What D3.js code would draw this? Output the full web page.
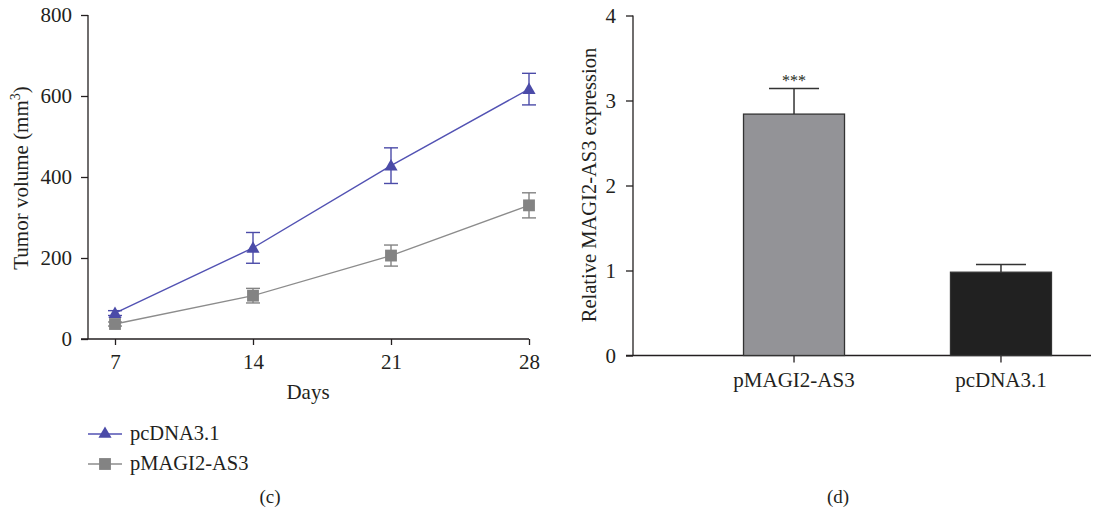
<!DOCTYPE html>
<html>
<head>
<meta charset="utf-8">
<script src="https://cdn.jsdelivr.net/npm/d3@7"></script>
<style>
  body { margin: 0; background: #fff; }
  text { font-family: "Liberation Serif", "DejaVu Serif", serif; fill: #231f20; }
</style>
</head>
<body>
<div id="figure"></div>
<script>
// Data
const days = [7, 14, 21, 28];
const pcdnaMean = [64, 225, 428, 617];
const pcdnaErr = [6, 38, 44, 39];
const pmagiMean = [37, 107, 206, 330];
const pmagiErr = [5, 18, 26, 31];

const groups = ["pMAGI2-AS3", "pcDNA3.1"];
const expr = [2.84, 0.98];
const exprErr = [0.30, 0.09];

const yTicksLeft = [0, 200, 400, 600, 800];
const yTicksRight = [0, 1, 2, 3, 4];

const width = 1093;
const height = 513;
const axisColor = "#231f20";
const blue = "#4b4ba8";
const grey = "#838383";
const fs = "21px";

const svg = d3.select("#figure").append("svg")
    .attr("width", width)
    .attr("height", height);

// ---------- panel (c): tumour volume ----------
const x = d3.scaleLinear().domain([7, 28]).range([115, 529]);
const y = d3.scaleLinear().domain([0, 800]).range([339, 15]);

const left = svg.append("g");

// axes
left.append("g")
    .attr("transform", `translate(88,0)`)
    .call(d3.axisLeft(y).tickValues(yTicksLeft).tickSize(7).tickPadding(9).tickSizeOuter(0))
    .call(g => g.select(".domain").remove());
left.append("g")
    .attr("transform", `translate(0,339)`)
    .call(d3.axisBottom(x).tickValues(days).tickSize(6).tickPadding(9).tickSizeOuter(0))
    .call(g => g.select(".domain").remove());
left.selectAll(".tick line").attr("stroke", axisColor).attr("stroke-width", 1.3);
left.selectAll(".tick text").style("font-size", fs).style("font-family", "Liberation Serif").attr("fill", axisColor);

left.append("line").attr("x1", 88).attr("x2", 88).attr("y1", y(800)).attr("y2", y(0))
    .attr("stroke", axisColor).attr("stroke-width", 1.3);
left.append("line").attr("x1", 81).attr("x2", x(28)).attr("y1", y(0)).attr("y2", y(0))
    .attr("stroke", axisColor).attr("stroke-width", 1.3);

// labels
const yl = left.append("text")
    .attr("transform", `translate(28,178) rotate(-90)`)
    .attr("text-anchor", "middle")
    .style("font-size", fs);
yl.append("tspan").text("Tumor volume (mm");
yl.append("tspan").text("3").style("font-size", "14px").attr("dy", -8);
yl.append("tspan").text(")").attr("dy", 8);

left.append("text")
    .attr("x", 308).attr("y", 399)
    .attr("text-anchor", "middle")
    .style("font-size", fs)
    .text("Days");

const series = [
    { name: "pcDNA3.1", mean: pcdnaMean, err: pcdnaErr, color: blue, line: "#5252b3", sym: d3.symbolTriangle },
    { name: "pMAGI2-AS3", mean: pmagiMean, err: pmagiErr, color: grey, line: "#8c8c8c", sym: d3.symbolSquare }
];

// draw grey first so the blue sits on top
[series[1], series[0]].forEach(s => {
    const pts = days.map((d, i) => ({ d, v: s.mean[i], e: s.err[i] }));
    const g = left.append("g");

    g.append("path")
        .datum(pts)
        .attr("fill", "none")
        .attr("stroke", s.line)
        .attr("stroke-width", 1.4)
        .attr("d", d3.line().x(p => x(p.d)).y(p => y(p.v)));

    // error bars
    const eb = g.selectAll(".eb").data(pts).enter().append("g");
    eb.append("line")
        .attr("x1", p => x(p.d)).attr("x2", p => x(p.d))
        .attr("y1", p => y(p.v - p.e)).attr("y2", p => y(p.v + p.e))
        .attr("stroke", s.color).attr("stroke-width", 1.4);
    eb.selectAll(".cap").data(p => [p.v - p.e, p.v + p.e].map(v => ({ d: p.d, v })))
        .enter().append("line")
        .attr("x1", c => x(c.d) - 7).attr("x2", c => x(c.d) + 7)
        .attr("y1", c => y(c.v)).attr("y2", c => y(c.v))
        .attr("stroke", s.color).attr("stroke-width", 1.4);

    g.selectAll(".mk").data(pts).enter().append("path")
        .attr("transform", p => `translate(${x(p.d)},${y(p.v) + (s.sym === d3.symbolTriangle ? 1 : 0)})`)
        .attr("d", d3.symbol().type(s.sym).size(s.sym === d3.symbolTriangle ? 75 : 140))
        .attr("fill", s.color);
});

// legend
series.forEach((s, i) => {
    const ly = 434 + i * 30;
    left.append("line").attr("x1", 88).attr("x2", 122).attr("y1", ly).attr("y2", ly)
        .attr("stroke", s.line).attr("stroke-width", 1.4);
    left.append("path")
        .attr("transform", `translate(105,${ly})`)
        .attr("d", d3.symbol().type(s.sym).size(s.sym === d3.symbolTriangle ? 75 : 140))
        .attr("fill", s.color);
    left.append("text")
        .attr("x", 130).attr("y", ly + 6)
        .style("font-size", "20.5px")
        .text(s.name);
});

left.append("text")
    .attr("x", 270).attr("y", 503)
    .attr("text-anchor", "middle")
    .style("font-size", "19px")
    .text("(c)");

// ---------- panel (d): relative expression ----------
const xb = d3.scaleBand().domain(groups).range([633, 1162]).paddingInner(0.512).paddingOuter(0.534);
const yb = d3.scaleLinear().domain([0, 4]).range([355.5, 15.5]);
const barFill = ["#939397", "#212121"];

const right = svg.append("g");

right.append("g")
    .attr("transform", `translate(633,0)`)
    .call(d3.axisLeft(yb).tickValues(yTicksRight).tickFormat(d3.format("d")).tickSize(7).tickPadding(10).tickSizeOuter(0))
    .call(g => g.select(".domain").remove());
right.append("g")
    .attr("transform", `translate(0,${yb(0)})`)
    .call(d3.axisBottom(xb).tickSize(7).tickPadding(10).tickSizeOuter(0))
    .call(g => g.select(".domain").remove());
right.selectAll(".tick line").attr("stroke", axisColor).attr("stroke-width", 1.3);
right.selectAll(".tick text").style("font-size", fs).style("font-family", "Liberation Serif").attr("fill", axisColor);

right.append("line").attr("x1", 633).attr("x2", 633).attr("y1", yb(4)).attr("y2", yb(0))
    .attr("stroke", axisColor).attr("stroke-width", 1.3);
right.append("line").attr("x1", 626).attr("x2", 1091).attr("y1", yb(0)).attr("y2", yb(0))
    .attr("stroke", axisColor).attr("stroke-width", 1.3);

right.selectAll(".bar").data(groups).enter().append("rect")
    .attr("x", d => xb(d))
    .attr("width", xb.bandwidth())
    .attr("y", (d, i) => yb(expr[i]))
    .attr("height", (d, i) => yb(0) - yb(expr[i]))
    .attr("fill", (d, i) => barFill[i])
    .attr("stroke", "#333")
    .attr("stroke-width", 1.3);

right.selectAll(".err").data(groups).enter().append("line")
    .attr("x1", d => xb(d) + xb.bandwidth() / 2)
    .attr("x2", d => xb(d) + xb.bandwidth() / 2)
    .attr("y1", (d, i) => yb(expr[i]))
    .attr("y2", (d, i) => yb(expr[i] + exprErr[i]))
    .attr("stroke", "#333").attr("stroke-width", 1.5);
right.selectAll(".cap").data(groups).enter().append("line")
    .attr("x1", d => xb(d) + xb.bandwidth() / 2 - 25)
    .attr("x2", d => xb(d) + xb.bandwidth() / 2 + 25)
    .attr("y1", (d, i) => yb(expr[i] + exprErr[i]))
    .attr("y2", (d, i) => yb(expr[i] + exprErr[i]))
    .attr("stroke", "#333").attr("stroke-width", 1.5);

right.append("text")
    .attr("x", xb(groups[0]) + xb.bandwidth() / 2)
    .attr("y", yb(expr[0] + exprErr[0]) - 3)
    .attr("text-anchor", "middle")
    .style("font-size", "16px")
    .attr("fill", "#555")
    .text("***");

right.append("text")
    .attr("transform", `translate(596,185) rotate(-90)`)
    .attr("text-anchor", "middle")
    .style("font-size", "20.5px")
    .text("Relative MAGI2-AS3 expression");

right.append("text")
    .attr("x", 838).attr("y", 503)
    .attr("text-anchor", "middle")
    .style("font-size", "19px")
    .text("(d)");
</script>
</body>
</html>
